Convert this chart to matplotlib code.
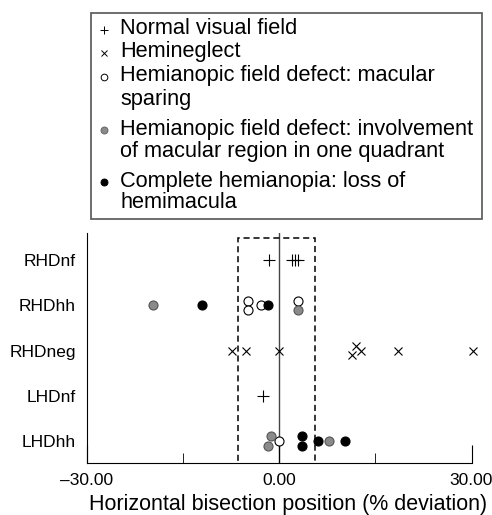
import numpy as np
import matplotlib.pyplot as plt
from matplotlib.patches import Rectangle

plt.rcParams['font.family'] = ['Liberation Sans', 'DejaVu Sans']

# Grupos de pacientes (de arriba a abajo)
groups = ['RHDnf', 'RHDhh', 'RHDneg', 'LHDnf', 'LHDhh']

# Campo visual normal (+)
normal_x = [-1.6, 2.0, 2.5, 3.0, -2.6]
normal_grp = ['RHDnf', 'RHDnf', 'RHDnf', 'RHDnf', 'LHDnf']
normal_nudge = [0, 0, 0, 0, 0]

# Heminegligencia (x)
neglect_x = [-7.4, -5.2, 0.0, 11.4, 11.9, 12.8, 18.5, 30.2]
neglect_grp = ['RHDneg'] * 8
neglect_nudge = [0, 0, 0, -1, 1, 0, 0, 0]

# Defecto hemianópico: respeto macular (círculo abierto)
sparing_x = [-4.8, -4.8, -2.9, 3.0, -0.1]
sparing_grp = ['RHDhh', 'RHDhh', 'RHDhh', 'RHDhh', 'LHDhh']
sparing_nudge = [1, -1, 0, 1, 0]

# Defecto hemianópico: afectación macular en un cuadrante (gris)
quadrant_x = [-19.7, 2.9, -1.3, -1.7, 7.7]
quadrant_grp = ['RHDhh', 'RHDhh', 'LHDhh', 'LHDhh', 'LHDhh']
quadrant_nudge = [0, -1, 1, -1, 0]

# Hemianopsia completa (negro)
complete_x = [-12.0, -1.7, 3.6, 3.6, 6.0, 10.3]
complete_grp = ['RHDhh', 'RHDhh', 'LHDhh', 'LHDhh', 'LHDhh', 'LHDhh']
complete_nudge = [0, 0, 1, -1, 0, 0]

# Leyenda: cada entrada con sus líneas de texto
legend_entries = [['Normal visual field'],
                  ['Hemineglect'],
                  ['Hemianopic field defect: macular', 'sparing'],
                  ['Hemianopic field defect: involvement', 'of macular region in one quadrant'],
                  ['Complete hemianopia: loss of', 'hemimacula']]

# Zona de normalidad (rectángulo discontinuo)
norm_low, norm_high = -6.4, 5.6

ypos = {g: len(groups) - i for i, g in enumerate(groups)}
step = 0.1


def to_y(grp, nudge):
    return [ypos[g] + n * step for g, n in zip(grp, nudge)]


fig = plt.figure(figsize=(4.92, 5.15), dpi=100)
ax = fig.add_axes([87 / 492, 1 - 463 / 515, 384.5 / 492, 230 / 515])

ax.axvline(0, color='#444444', lw=1.0, zorder=1)
ax.add_patch(Rectangle((norm_low, 0.3), norm_high - norm_low, 5.5 - 0.3,
                       fill=False, ls=(0, (4, 2.5)), lw=1.1, ec='black', zorder=1))

ax.plot(normal_x, to_y(normal_grp, normal_nudge), ls='none', marker='+',
        ms=8, mew=0.8, color='black', zorder=3)
ax.plot(neglect_x, to_y(neglect_grp, neglect_nudge), ls='none', marker='x',
        ms=6, mew=0.8, color='black', zorder=3, clip_on=False)
ax.plot(sparing_x, to_y(sparing_grp, sparing_nudge), ls='none', marker='o',
        ms=6.5, mew=0.8, mfc='white', mec='black', zorder=3)
ax.plot(quadrant_x, to_y(quadrant_grp, quadrant_nudge), ls='none', marker='o',
        ms=6.5, mew=0.8, mfc='#8a8a8a', mec='#555555', zorder=4)
ax.plot(complete_x, to_y(complete_grp, complete_nudge), ls='none', marker='o',
        ms=6.5, mew=0.8, mfc='black', mec='black', zorder=5)

ax.set_xlim(-30, 30)
ax.set_ylim(0.514, 5.6)
ax.set_yticks([ypos[g] for g in groups])
ax.set_yticklabels(groups, fontsize=12.5)
ax.tick_params(axis='y', length=0, pad=8)

ax.set_xticks([-30, 0, 30])
ax.set_xticklabels(['\u201330.00', '0.00', '30.00'], fontsize=12.5)
ax.set_xticks([-15, 15], minor=True)
ax.tick_params(axis='x', which='major', direction='in', length=13, pad=7)
ax.tick_params(axis='x', which='minor', direction='in', length=7)
ax.set_xlabel('Horizontal bisection position (% deviation)', fontsize=15.5, labelpad=5)
ax.xaxis.set_label_coords(0.523, -0.135)

ax.spines['top'].set_visible(False)
ax.spines['right'].set_visible(False)

# Leyenda dibujada a mano en coordenadas de píxel
lg = fig.add_axes([0, 0, 1, 1])
lg.set_xlim(0, 492)
lg.set_ylim(515, 0)
lg.axis('off')
lg.add_patch(Rectangle((91, 13), 391, 206, fill=False, ec='#555555', lw=1.2))

marker_styles = [dict(marker='+', ms=6, mfc='black', mec='black'),
                 dict(marker='x', ms=4, mfc='black', mec='black'),
                 dict(marker='o', ms=4.8, mfc='white', mec='black'),
                 dict(marker='o', ms=5, mfc='#8a8a8a', mec='#666666'),
                 dict(marker='o', ms=5, mfc='black', mec='black')]
line_y = [[29], [52], [76, 99], [129, 152], [181, 203]]

for entry, ys, st in zip(legend_entries, line_y, marker_styles):
    lg.plot([104], [ys[0] + 1], ls='none', mew=0.7, **st)
    for txt, y in zip(entry, ys):
        lg.text(120, y, txt, fontsize=15.7, va='center', ha='left')

fig.savefig('out.png', dpi=100)
